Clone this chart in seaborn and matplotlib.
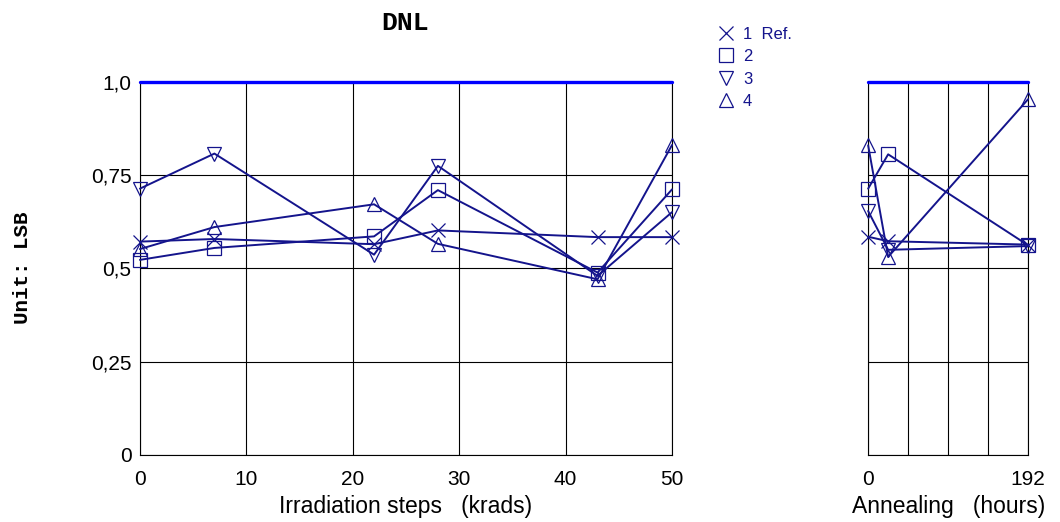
import numpy as np
import pandas as pd
import matplotlib
matplotlib.use("Agg")
import matplotlib.pyplot as plt
import seaborn as sns
from matplotlib.lines import Line2D

# irradiation steps (krads) and annealing time (hours)
irr_steps = [0, 7, 22, 28, 43, 50]
ann_steps = [0, 24, 192]

series_names = ["1  Ref.", "2", "3", "4"]
series_markers = ["x", "s", "v", "^"]

# DNL values (LSB)
irr_ref = [0.572, 0.579, 0.565, 0.602, 0.584, 0.584]
irr_2 = [0.523, 0.555, 0.586, 0.71, 0.489, 0.712]
irr_3 = [0.714, 0.808, 0.537, 0.775, 0.48, 0.651]
irr_4 = [0.552, 0.611, 0.672, 0.566, 0.471, 0.831]

ann_ref = [0.585, 0.573, 0.564]
ann_2 = [0.714, 0.806, 0.562]
ann_3 = [0.654, 0.55, 0.56]
ann_4 = [0.83, 0.531, 0.954]

limit = 1.0

yticks = [0, 0.25, 0.5, 0.75, 1.0]
ytick_labels = ["0", "0,25", "0,5", "0,75", "1,0"]

navy = "#14148c"

irr_df = pd.DataFrame({"step": irr_steps * 4,
                       "dnl": irr_ref + irr_2 + irr_3 + irr_4,
                       "series": np.repeat(series_names, len(irr_steps))})
ann_df = pd.DataFrame({"step": ann_steps * 4,
                       "dnl": ann_ref + ann_2 + ann_3 + ann_4,
                       "series": np.repeat(series_names, len(ann_steps))})

sns.set_style("white")
plt.rcParams["font.family"] = ["Liberation Sans", "DejaVu Sans"]
plt.rcParams["text.color"] = "black"
plt.rcParams["axes.labelcolor"] = "black"
plt.rcParams["xtick.color"] = "black"
plt.rcParams["ytick.color"] = "black"

fig = plt.figure(figsize=(10.6, 5.22), dpi=100)
ax1 = fig.add_axes([0.132, 0.1284, 0.502, 0.7146])
ax2 = fig.add_axes([0.819, 0.1284, 0.151, 0.7146])

for ax, df in [(ax1, irr_df), (ax2, ann_df)]:
    for name, mk in zip(series_names, series_markers):
        sub = df[df["series"] == name]
        sns.lineplot(data=sub, x="step", y="dnl", ax=ax, color=navy, lw=1.4,
                     marker=mk, markersize=9.5, markerfacecolor="none",
                     markeredgecolor=navy, markeredgewidth=0.9, clip_on=False,
                     legend=False, zorder=3)

ax1.set_xlim(0, 50)
ax1.set_xticks([0, 10, 20, 30, 40, 50])
ax2.set_xlim(0, 192)
ax2.set_xticks([0, 48, 96, 144, 192])
ax2.set_xticklabels(["0", "", "", "", "192"])

for ax in (ax1, ax2):
    xl = ax.get_xlim()
    ax.plot(xl, [limit, limit], color="#0000ff", lw=2.4, clip_on=False, zorder=4)
    ax.set_ylim(0, 1.0)
    ax.set_yticks(yticks)
    ax.grid(True, color="black", lw=0.8)
    ax.tick_params(axis="x", length=0, labelsize=15, pad=11)
    ax.tick_params(axis="y", length=0, labelsize=15, pad=6)
    ax.set_ylabel("")
    for s in ["left", "bottom", "right"]:
        ax.spines[s].set_color("black")
        ax.spines[s].set_linewidth(0.8)
    ax.spines["top"].set_visible(False)

ax1.set_yticklabels(ytick_labels)
ax2.set_yticklabels([])

ax1.set_xlabel("Irradiation steps   (krads)", fontsize=16.5, labelpad=4)
ax2.set_xlabel("Annealing   (hours)", fontsize=16.5, labelpad=4)

fig.text(0.382, 0.956, "DNL", family="Liberation Mono", weight="bold",
         fontsize=19, ha="center", va="center")
fig.text(0.021, 0.487, "Unit: LSB", family="Liberation Mono", weight="bold",
         fontsize=15, rotation=90, ha="center", va="center")

handles = [Line2D([], [], ls="none", marker=mk, markersize=9.5,
                  markerfacecolor="none", markeredgecolor=navy,
                  markeredgewidth=0.9) for mk in series_markers]
fig.legend(handles, series_names, loc="upper left",
           bbox_to_anchor=(0.671, 0.962), frameon=False, fontsize=12,
           labelcolor=navy, handlelength=1.0, handletextpad=0.5,
           labelspacing=0.45, borderaxespad=0)

plt.savefig("out.png", dpi=100)
